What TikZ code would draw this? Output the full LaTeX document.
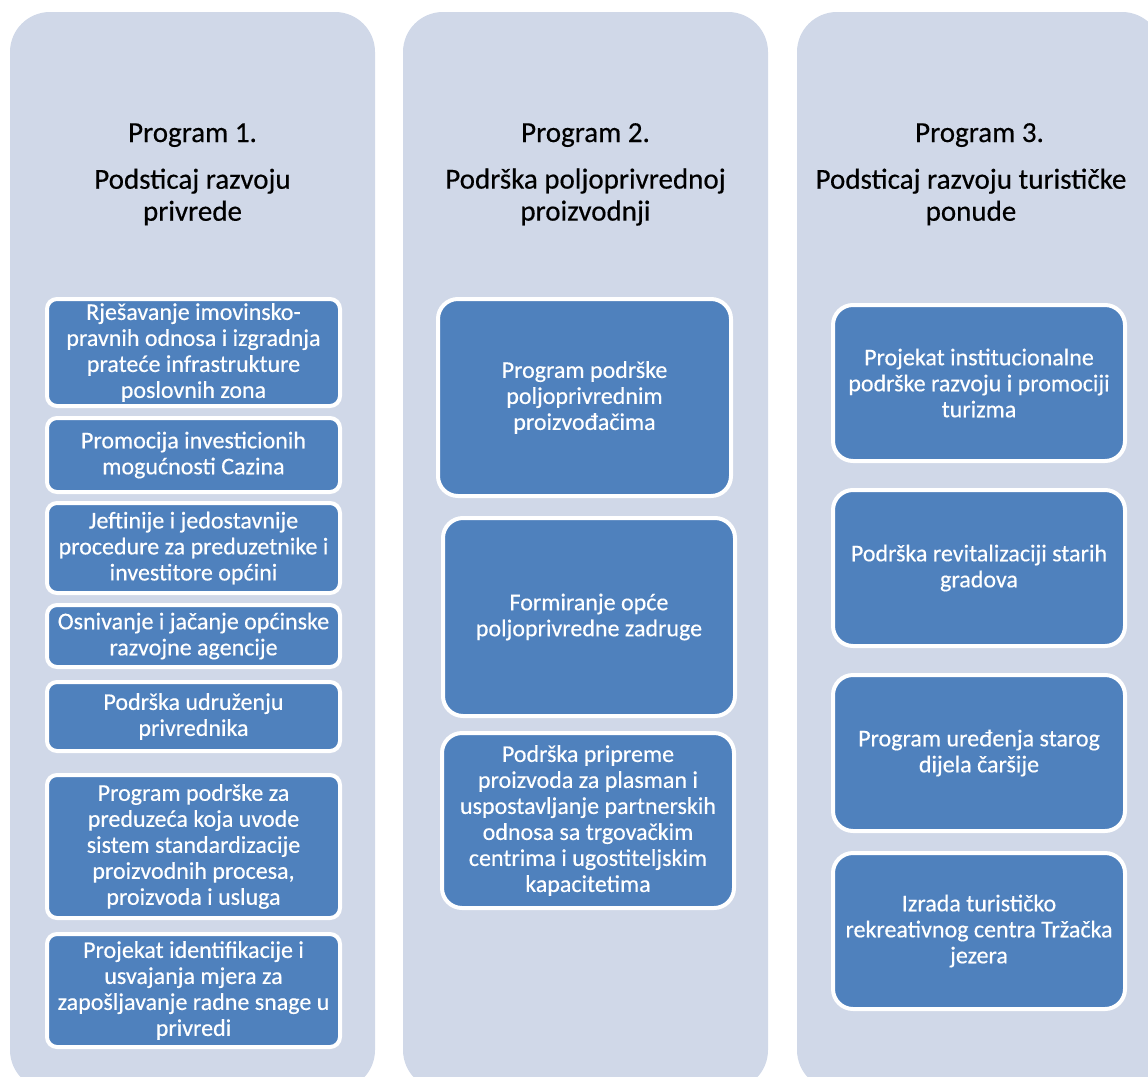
\documentclass[tikz,border=0pt]{standalone}
\usepackage{fontspec}
\setmainfont{Carlito}[FakeBold=0.4]
\usetikzlibrary{positioning}

\definecolor{colbg}{HTML}{D0D8E8}
\definecolor{taskblue}{HTML}{4F81BD}

\tikzset{
    column/.style={fill=colbg, rounded corners=40pt},
    heading/.style={font=\fontsize{29}{32}\selectfont, align=center, text=black, inner sep=0pt},
    task/.style={draw=white, line width=4pt, fill=taskblue, text=white, align=center,
        font=\fontsize{24}{26}\selectfont, rounded corners=10pt, minimum width=293pt, inner sep=2pt},
    bigtask/.style={task, rounded corners=20pt},
}

\begin{document}
\begin{tikzpicture}[x=1pt,y=-1pt]
                    \useasboundingbox (0,0) rectangle (1148,1076);
                    \clip (0,0) rectangle (1148,1076);
                    \foreach \x in {10,403,797}
                        \fill[column] (\x,12) rectangle ++(365,1078);
                    % headings
                    \node[heading, anchor=base] (h1) at (192.5,142) {Program 1.};
                    \node[heading] (s1) at (192.5,197) {Podsticaj razvoju\\privrede};
                    \node[heading, anchor=base] (h2) at (585.5,142) {Program 2.};
                    \node[heading] (s2) at (585.5,197) {Podrška poljoprivrednoj\\proizvodnji};
                    \node[heading, anchor=base] (h3) at (979.5,142) {Program 3.};
                    \node[heading] (s3) at (971,197) {Podsticaj razvoju turističke\\ponude};
                    % program 1
                    \node[task, minimum height=107pt] (p1a) at (193.5,352.5) {Rješavanje imovinsko-\\pravnih odnosa i izgradnja\\prateće infrastrukture\\poslovnih zona};
                    \node[task, minimum height=74pt] (p1b) at (193.5,455) {Promocija investicionih\\mogućnosti Cazina};
                    \node[task, minimum height=90pt] (p1c) at (193.5,548) {Jeftinije i jedostavnije\\procedure za preduzetnike i\\investitore općini};
                    \node[task, minimum height=62pt] (p1d) at (193.5,636) {Osnivanje i jačanje općinske\\razvojne agencije};
                    \node[task, minimum height=69pt] (p1e) at (193.5,716.5) {Podrška udruženju\\privrednika};
                    \node[task, minimum height=143pt] (p1f) at (193.5,846.5) {Program podrške za\\preduzeća koja uvode\\sistem standardizacije\\proizvodnih procesa,\\proizvoda i usluga};
                    \node[task, minimum height=113pt] (p1g) at (193.5,990.5) {Projekat identifikacije i\\usvajanja mjera za\\zapošljavanje radne snage u\\privredi};
                    % program 2
                    \node[bigtask, minimum height=197pt] (p2a) at (584.5,397.5) {Program podrške\\poljoprivrednim\\proizvođačima};
                    \node[bigtask, minimum width=292pt, minimum height=198pt] (p2b) at (589,617) {Formiranje opće\\poljoprivredne zadruge};
                    \node[bigtask, minimum width=292pt, minimum height=175pt] (p2c) at (588,820.5) {Podrška pripreme\\proizvoda za plasman i\\uspostavljanje partnerskih\\odnosa sa trgovačkim\\centrima i ugostiteljskim\\kapacitetima};
                    % program 3
                    \node[bigtask, minimum width=292pt, minimum height=156pt] (p3a) at (979,383) {Projekat institucionalne\\podrške razvoju i promociji\\turizma};
                    \node[bigtask, minimum width=292pt, minimum height=156pt] (p3b) at (979,568) {Podrška revitalizaciji starih\\gradova};
                    \node[bigtask, minimum width=292pt, minimum height=156pt] (p3c) at (979,753) {Program uređenja starog\\dijela čaršije};
                    \node[bigtask, minimum width=292pt, minimum height=156pt] (p3d) at (979,931) {Izrada turističko\\rekreativnog centra Tržačka\\jezera};
                \end{tikzpicture}
\end{document}
